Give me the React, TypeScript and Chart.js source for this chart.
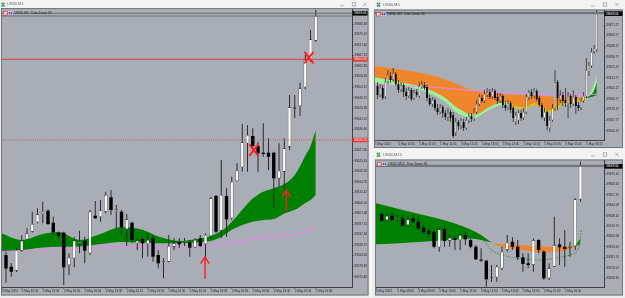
import React, { useEffect, useRef } from "react";
import { Chart, registerables } from "chart.js";
Chart.register(...registerables);

const FONT = "'Liberation Sans', 'DejaVu Sans', sans-serif";
const GREY = "#a9aeb6";

// ================= US30,M1 (left) =================
const m1Open = [39584.47, 39579.62, 39577.96, 39586.26, 39590.99, 39594.14, 39598.05, 39601.49, 39602.86, 39597.88,
  39593.73, 39593.73, 39580.32, 39583.11, 39589.33, 39590.41, 39585.18, 39600.78, 39600.24, 39602.44,
  39608.42, 39602.73, 39602.44, 39595.14, 39597.88, 39589.33, 39591.12, 39589.04, 39591.41, 39584.47,
  39581.45, 39581.69, 39587.92, 39589.99, 39589.75, 39589.75, 39587.67, 39591.41, 39589.04, 39592.36,
  39608.96, 39594.56, 39608.96, 39599.71, 39615.18, 39620.87, 39630.83, 39633.86, 39629.71, 39626.93,
  39626.93, 39626.93, 39616.30, 39619.04, 39629.42, 39645.19, 39646.31, 39654.07, 39665.40, 39673.41];
const m1High = [39585.84, 39581.15, 39587.38, 39592.77, 39595.56, 39602.44, 39603.86, 39606.59, 39603.44, 39600.37,
  39594.14, 39594.14, 39585.18, 39592.07, 39594.56, 39592.07, 39603.15, 39606.88, 39607.30, 39610.74,
  39611.45, 39605.22, 39603.15, 39601.49, 39598.29, 39591.41, 39592.07, 39593.73, 39592.77, 39586.55,
  39583.11, 39592.77, 39591.53, 39591.53, 39591.53, 39590.70, 39591.53, 39592.77, 39593.48, 39608.54,
  39609.37, 39623.90, 39612.16, 39616.97, 39622.53, 39638.84, 39638.43, 39637.06, 39631.49, 39639.13,
  39632.91, 39627.34, 39630.83, 39632.91, 39650.87, 39650.87, 39655.98, 39667.47, 39677.85, 39686.15];
const m1Low = [39572.98, 39575.47, 39577.42, 39585.84, 39590.70, 39593.73, 39597.63, 39597.63, 39596.93, 39592.77,
  39591.41, 39572.02, 39576.17, 39579.37, 39585.18, 39581.03, 39584.47, 39599.50, 39598.29, 39601.78,
  39601.07, 39595.56, 39592.77, 39588.21, 39589.33, 39586.55, 39583.11, 39583.77, 39581.69, 39578.96,
  39574.81, 39581.45, 39586.55, 39587.38, 39588.21, 39583.77, 39587.38, 39587.79, 39582.40, 39591.53,
  39593.60, 39591.41, 39592.07, 39599.00, 39614.89, 39619.04, 39619.04, 39627.34, 39619.04, 39625.27,
  39619.75, 39603.86, 39612.82, 39611.45, 39628.05, 39641.33, 39642.16, 39653.24, 39664.69, 39672.99];
const m1Close = [39578.87, 39577.54, 39586.55, 39590.41, 39593.48, 39597.34, 39601.37, 39602.44, 39597.34, 39593.90,
  39592.36, 39579.37, 39583.35, 39590.41, 39589.99, 39586.26, 39602.44, 39599.71, 39602.94, 39609.37,
  39603.15, 39603.36, 39595.97, 39599.29, 39590.70, 39590.41, 39589.33, 39590.70, 39583.77, 39581.03,
  39581.98, 39588.21, 39589.33, 39588.92, 39590.28, 39587.50, 39590.70, 39588.21, 39592.77, 39608.01,
  39594.14, 39609.37, 39599.29, 39614.89, 39619.54, 39631.25, 39634.27, 39629.71, 39626.68, 39626.39,
  39625.27, 39616.30, 39619.46, 39628.76, 39645.77, 39645.77, 39653.66, 39665.40, 39673.99, 39683.66];
const m1TickIdx = [-0.76, 3, 7, 11, 15, 19, 23, 27, 31, 35, 39, 43, 47, 51, 55, 59];
const m1TickLabels = ["5 May 2024", "5 May 15:52", "5 May 15:56", "5 May 16:00", "5 May 16:04", "5 May 16:08",
  "5 May 16:12", "5 May 16:16", "5 May 16:20", "5 May 16:24", "5 May 16:28", "5 May 16:32", "5 May 16:36",
  "5 May 16:40", "5 May 16:44", "5 May 16:48"];
const m1PriceTicks = [39680.34, 39675.97, 39671.60, 39667.23, 39662.86, 39658.49, 39654.12, 39649.75, 39645.38,
  39641.01, 39636.64, 39632.27, 39627.90, 39623.53, 39619.16, 39614.79, 39610.42, 39606.05, 39601.68, 39597.31,
  39592.94, 39588.57, 39584.20, 39579.83, 39575.46];
const m1BandIdx = [-1, 3, 7, 10, 14, 18, 22, 26, 29, 33, 35, 39, 41, 43, 45, 47, 49, 51, 53, 55, 57, 58, 59];
const m1BandUpper = [39593.6, 39590.7, 39593.2, 39594.0, 39590.7, 39593.2, 39596.1, 39594.9, 39592.1, 39590.3, 39590.7,
  39592.4, 39594.4, 39598.2, 39603.2, 39607.9, 39610.7, 39612.2, 39613.9, 39617.7, 39625.6, 39629.7, 39636.4];
const m1BandLower = [39585.8, 39586.5, 39587.6, 39587.9, 39588.0, 39589.0, 39589.9, 39589.7, 39589.3, 39589.5, 39589.6,
  39590.3, 39591.9, 39594.9, 39596.9, 39598.3, 39599.0, 39599.4, 39601.7, 39603.2, 39606.1, 39607.3, 39609.4];
const m1PinkIdx = [-1, 10, 18, 26, 33, 38, 41, 45, 48, 52, 55, 57, 59];
const m1Pink = [39585.9, 39586.8, 39587.4, 39587.8, 39587.9, 39588.2, 39589.2, 39590.3, 39591.2, 39592.2, 39593.0, 39594.2, 39596.0];
const m1RedLine = 39665.69;
const m1RedDotted = 39632.20;
const m1ArrowIdx = [37.9, 53.4];
const m1ArrowTip = [39583.6, 39611.3];
const m1ArrowTail = [39574.8, 39603.0];
const m1CrossIdx = [57.7, 47.2];
const m1CrossPrice = [39666.4, 39628.0];

const bidPrice = 39683.66;
const askPrice = 39684.80;

// ================= US30,M5 (top right) =================
const m5Open = [39604.9, 39595.1, 39602.8, 39593.0, 39609.3, 39615.8, 39611.5, 39618.0, 39607.1, 39600.6,
  39606.0, 39598.4, 39594.0, 39600.6, 39590.8, 39598.4, 39594.0, 39603.8, 39606.0, 39603.8,
  39591.9, 39585.3, 39589.7, 39581.0, 39576.6, 39582.1, 39575.6, 39570.1, 39576.6, 39573.4,
  39553.8, 39565.8, 39561.4, 39565.8, 39559.2, 39566.9, 39572.3, 39569.0, 39576.6, 39585.3,
  39591.9, 39588.6, 39595.1, 39598.4, 39593.0, 39599.5, 39593.0, 39588.6, 39594.0, 39584.3,
  39581.0, 39586.4, 39581.0, 39565.8, 39567.9, 39575.6, 39570.1, 39576.6, 39591.9, 39598.4,
  39594.0, 39599.5, 39591.9, 39584.3, 39570.1, 39576.6, 39559.2, 39567.9, 39579.9, 39609.3,
  39589.7, 39595.1, 39589.7, 39585.3, 39594.0, 39585.3, 39593.0, 39584.3, 39581.0, 39588.6,
  39594.0, 39620.2, 39626.7, 39641.9, 39644.1];
const m5High = [39609.3, 39607.1, 39606.0, 39613.6, 39622.3, 39620.2, 39624.5, 39620.2, 39611.5, 39609.3,
  39608.2, 39602.8, 39603.8, 39602.8, 39600.6, 39601.7, 39609.3, 39610.4, 39609.3, 39606.0,
  39595.1, 39593.0, 39591.9, 39585.3, 39585.3, 39584.3, 39578.8, 39581.0, 39578.8, 39576.6,
  39570.1, 39567.9, 39570.1, 39569.0, 39571.2, 39575.6, 39575.6, 39581.0, 39589.7, 39596.2,
  39595.1, 39600.6, 39602.8, 39601.7, 39602.8, 39601.7, 39597.3, 39597.3, 39596.2, 39588.6,
  39589.7, 39588.6, 39583.2, 39576.6, 39578.8, 39578.8, 39581.0, 39596.2, 39600.6, 39601.7,
  39602.8, 39601.7, 39594.0, 39586.4, 39581.0, 39578.8, 39572.3, 39585.3, 39622.3, 39611.5,
  39600.6, 39598.4, 39602.8, 39598.4, 39596.2, 39600.6, 39595.1, 39587.5, 39591.9, 39598.4,
  39635.4, 39631.0, 39646.3, 39649.5, 39687.6];
const m5Low = [39590.8, 39593.0, 39589.7, 39590.8, 39607.1, 39608.2, 39609.3, 39604.9, 39597.3, 39598.4,
  39593.0, 39589.7, 39591.9, 39588.6, 39589.7, 39593.0, 39591.9, 39601.7, 39600.6, 39588.6,
  39583.2, 39582.1, 39577.7, 39573.4, 39574.5, 39570.1, 39567.9, 39566.9, 39565.8, 39548.4,
  39550.5, 39557.1, 39558.2, 39556.0, 39557.1, 39564.7, 39565.8, 39566.9, 39574.5, 39583.2,
  39586.4, 39586.4, 39593.0, 39590.8, 39590.8, 39589.7, 39585.3, 39586.4, 39581.0, 39577.7,
  39578.8, 39575.6, 39565.8, 39562.5, 39563.6, 39566.9, 39567.9, 39574.5, 39589.7, 39590.8,
  39591.9, 39588.6, 39582.1, 39569.0, 39566.9, 39557.1, 39554.9, 39565.8, 39577.7, 39578.8,
  39586.4, 39583.2, 39582.1, 39570.1, 39581.0, 39583.2, 39574.5, 39577.7, 39578.8, 39586.4,
  39591.9, 39615.8, 39624.5, 39639.7, 39641.9];
const m5Close = [39595.1, 39602.8, 39591.9, 39609.3, 39616.9, 39611.5, 39619.1, 39607.1, 39600.6, 39606.0,
  39598.4, 39594.0, 39600.6, 39590.8, 39598.4, 39595.1, 39604.9, 39607.1, 39602.8, 39591.9,
  39585.3, 39589.7, 39581.0, 39576.6, 39582.1, 39575.6, 39571.2, 39575.6, 39570.1, 39550.5,
  39565.8, 39561.4, 39566.9, 39559.2, 39567.9, 39572.3, 39569.0, 39576.6, 39585.3, 39593.0,
  39588.6, 39596.2, 39598.4, 39593.0, 39599.5, 39591.9, 39588.6, 39594.0, 39584.3, 39581.0,
  39586.4, 39578.8, 39570.1, 39573.4, 39575.6, 39570.1, 39576.6, 39593.0, 39598.4, 39594.0,
  39599.5, 39590.8, 39584.3, 39571.2, 39576.6, 39561.4, 39567.9, 39581.0, 39609.3, 39591.9,
  39595.1, 39588.6, 39586.4, 39594.0, 39585.3, 39593.0, 39583.2, 39581.0, 39588.6, 39594.0,
  39622.3, 39627.8, 39641.9, 39646.3, 39683.3];
const m5TickIdx = [-0.96, 8, 16, 24, 32, 40, 48, 56, 64, 72, 80];
const m5TickLabels = ["5 May 2024", "5 May 10:25", "5 May 11:05", "5 May 11:45", "5 May 12:25", "5 May 13:05",
  "5 May 13:45", "5 May 14:25", "5 May 15:05", "5 May 15:45", "5 May 16:25"];
const m5PriceTicks = [39671.27, 39659.77, 39648.27, 39636.77, 39625.27, 39613.77, 39602.27, 39590.77, 39579.27, 39567.77, 39556.27];
const m5BandIdx = [-1, 5, 10, 16, 23, 27, 30, 34, 37, 39, 42, 46, 50, 53, 57, 60, 62, 66, 69, 71, 76, 80];
const m5OrangeTop = [39626.7, 39624.5, 39622.3, 39619.6, 39615.0, 39610.9, 39607.7, 39602.8, 39600.3, 39599.2, 39597.6,
  39596.4, 39595.7, 39595.4, 39594.9, 39594.5, 39594.3, 39593.5, 39593.1, 39592.9, 39592.6, 39593.0];
const m5OrangeBottom = [39614.4, 39611.5, 39608.5, 39604.9, 39597.0, 39589.7, 39582.4, 39575.9, 39573.4, 39575.2, 39580.7,
  39586.1, 39587.9, 39583.2, 39582.4, 39586.8, 39584.3, 39578.8, 39582.4, 39587.9, 39589.7, 39591.5];
const m5SlowEdge = [39608.2, 39606.6, 39604.9, 39601.1, 39593.0, 39585.3, 39576.6, 39571.2, 39569.6, 39572.3, 39577.7,
  39583.2, 39585.3, 39580.5, 39579.9, 39584.3, 39581.5, 39576.1, 39579.9, 39585.3, 39587.2, 39589.7];
const m5GreenUntil = 50; // last index of the light-green stretch, yellow afterwards
const m5SpikeIdx = [79, 81, 82, 83, 84];
const m5SpikeLight = [39593.0, 39596.2, 39600.6, 39607.1, 39616.9];
const m5SpikeDark = [39592.4, 39594.0, 39596.2, 39600.6, 39609.3];
const m5SpikeBase = [39591.9, 39592.4, 39593.0, 39594.0, 39595.1];
const m5PinkIdx = [-1, 5, 10, 16, 23, 29, 35, 42, 48, 55, 61, 67, 74, 84];
const m5Pink = [39605.5, 39605.7, 39604.9, 39604.6, 39603.3, 39601.7, 39600.3, 39599.0, 39597.9, 39597.0, 39596.2, 39595.5, 39594.8, 39596.2];

// ================= US30,M15 (bottom right) =================
const m15Open = [39630.3, 39623.6, 39628.4, 39624.7, 39625.5, 39618.0, 39625.5, 39621.7, 39615.0, 39611.6,
  39610.5, 39593.1, 39613.6, 39600.5, 39603.1, 39601.2, 39606.8, 39601.2, 39593.7, 39578.9,
  39578.1, 39559.1, 39559.5, 39569.6, 39590.1, 39599.3, 39593.7, 39581.9, 39575.2, 39573.3,
  39601.2, 39588.2, 39558.4, 39571.4, 39596.4, 39593.7, 39592.6, 39594.5, 39646.8];
const m15High = [39632.9, 39631.8, 39632.9, 39629.2, 39629.2, 39627.3, 39629.2, 39628.1, 39618.0, 39614.3,
  39612.4, 39615.4, 39616.1, 39606.8, 39605.7, 39608.7, 39610.5, 39603.1, 39595.6, 39592.0,
  39578.9, 39573.3, 39573.3, 39593.7, 39606.8, 39604.3, 39601.2, 39586.4, 39586.4, 39603.1,
  39602.0, 39590.1, 39575.2, 39627.3, 39603.1, 39612.4, 39599.3, 39647.9, 39688.9];
const m15Low = [39621.7, 39621.7, 39622.8, 39621.7, 39616.1, 39616.1, 39619.9, 39612.4, 39608.7, 39604.3,
  39592.0, 39588.2, 39593.7, 39593.7, 39590.1, 39590.1, 39595.6, 39592.0, 39578.9, 39577.0,
  39549.0, 39554.6, 39554.6, 39567.7, 39588.2, 39590.1, 39578.9, 39565.8, 39569.6, 39565.8,
  39586.4, 39556.5, 39556.5, 39571.4, 39573.3, 39571.4, 39582.6, 39590.1, 39644.1];
const m15Close = [39622.8, 39628.1, 39623.6, 39626.2, 39617.2, 39624.4, 39621.7, 39614.3, 39609.9, 39608.0,
  39593.7, 39613.2, 39600.1, 39603.8, 39601.2, 39606.8, 39602.0, 39593.7, 39579.6, 39578.1,
  39557.3, 39559.8, 39571.4, 39588.2, 39598.2, 39593.7, 39581.9, 39574.4, 39573.3, 39601.2,
  39590.1, 39558.4, 39569.6, 39595.6, 39593.1, 39591.2, 39594.5, 39646.8, 39685.2];
const m15TickIdx = [-1.09, 3, 7, 11, 15, 19, 23, 27, 31, 35];
const m15TickLabels = ["5 May 2024", "5 May 08:00", "5 May 09:00", "5 May 10:00", "5 May 11:00", "5 May 12:00",
  "5 May 13:00", "5 May 14:00", "5 May 15:00", "5 May 16:00"];
const m15PriceTicks = [39675.10, 39663.43, 39651.76, 39640.09, 39628.42, 39616.75, 39605.08, 39593.41, 39581.74, 39570.07, 39558.40];
const m15GreenIdx = [-1.1, 4, 10, 14, 17, 19, 21];
const m15GreenTop = [39642.3, 39634.8, 39626.4, 39619.7, 39613.0, 39606.8, 39598.4];
const m15GreenBottom = [39596.4, 39597.9, 39600.1, 39601.8, 39602.9, 39601.2, 39598.4];
const m15OrangeIdx = [21, 23, 26, 29, 32, 35, 37];
const m15OrangeTop = [39597.9, 39596.4, 39595.6, 39594.5, 39594.0, 39593.7, 39594.7];
const m15OrangeBottom = [39597.3, 39593.4, 39590.6, 39588.4, 39587.3, 39589.5, 39593.4];
const m15TipIdx = [37, 38];
const m15TipTop = [39594.7, 39603.1];
const m15TipBottom = [39594.5, 39596.2];
const m15DashIdx = [17, 19, 21, 23, 26, 30, 33, 36, 37.6, 38.2];
const m15Dash = [39606.8, 39603.1, 39590.1, 39584.5, 39580.8, 39578.9, 39580.8, 39584.5, 39592.0, 39612.4];

// ================= helpers =================
function candleSets(open: number[], high: number[], low: number[], close: number[], bodyW: number, wickW: number, edgeW: number) {
  const wick: any[] = [], up: any[] = [], down: any[] = [];
  for (let i = 0; i < open.length; i++) {
    wick.push({ x: i, y: [low[i], high[i]] });
    if (close[i] >= open[i]) up.push({ x: i, y: [open[i], close[i]] });
    else down.push({ x: i, y: [close[i], open[i]] });
  }
  const base = { type: "bar", grouped: false, borderSkipped: false, inflateAmount: 0, minBarLength: 1 };
  return [
    { ...base, data: wick, barThickness: wickW, backgroundColor: "#2b2b2b", borderWidth: 0, order: 3 },
    { ...base, data: up, barThickness: bodyW, backgroundColor: "#ffffff", borderColor: "#3a3a3a", borderWidth: edgeW, order: 2 },
    { ...base, data: down, barThickness: bodyW, backgroundColor: "#000000", borderWidth: 0, order: 1 },
  ];
}

function line(xs: number[], ys: number[], extra: any) {
  return {
    type: "line",
    data: xs.map((x, i) => ({ x, y: ys[i] })),
    pointRadius: 0,
    borderWidth: 0,
    borderColor: "rgba(0,0,0,0)",
    tension: 0.4,
    cubicInterpolationMode: "monotone",
    fill: false,
    order: 8,
    ...extra,
  };
}

function band(xs: number[], top: number[], bottom: number[], color: string, order: number) {
  return [
    line(xs, top, { fill: "+1", backgroundColor: color, order }),
    line(xs, bottom, { order }),
  ];
}

type Spec = {
  w: number; h: number;
  pad: { left: number; top: number; right: number; bottom: number };
  yAxisW: number; xAxisH: number;
  xMin: number; xMax: number; yMin: number; yMax: number;
  xTicks: number[]; xLabels: string[]; yTicks: number[];
  datasets: any[];
  frame: [number, number, number, number];
  title: string; titleX: number; titleY: number; iconX: number; btnX: number[];
  info: string;
  boxValue: number;
  hlines: { value: number; color: string; dash: number[]; box: string }[];
  marks?: boolean;
};

function decor(s: Spec) {
  return {
    id: "decor",
    beforeDraw(chart: any) {
      const ctx = chart.ctx as CanvasRenderingContext2D;
      ctx.save();
      ctx.fillStyle = "#ececec";
      ctx.fillRect(0, 0, chart.width, chart.height);
      ctx.fillStyle = "#f3f3f3";
      ctx.fillRect(0, 0, chart.width, s.frame[1]);
      const [x0, y0, x1, y1] = s.frame;
      ctx.fillStyle = GREY;
      ctx.fillRect(x0, y0, x1 - x0, y1 - y0);
      ctx.strokeStyle = "#74777c";
      ctx.lineWidth = 1;
      ctx.strokeRect(x0 + 0.5, y0 + 0.5, x1 - x0 - 1, y1 - y0 - 1);
      // title icon
      ctx.fillStyle = "#2f9e44";
      const ix = s.iconX, iy = s.titleY;
      [[0, -1], [2, -1], [1, 0.6], [0, 1.6], [2, 1.6]].forEach(([dx, dy]) => {
        ctx.beginPath();
        ctx.arc(ix + dx, iy + dy, 0.9, 0, Math.PI * 2);
        ctx.fill();
      });
      ctx.fillStyle = "#5e5e5e";
      ctx.font = `4px ${FONT}`;
      ctx.textBaseline = "middle";
      ctx.textAlign = "left";
      ctx.fillText(s.title, s.titleX, s.titleY);
      ctx.strokeStyle = "#a4a4a4";
      ctx.lineWidth = 0.8;
      const [b1, b2, b3] = s.btnX;
      const ty = s.titleY;
      ctx.beginPath();
      ctx.moveTo(b1 - 2, ty + 1.5);
      ctx.lineTo(b1 + 2, ty + 1.5);
      ctx.stroke();
      ctx.strokeRect(b2 - 1.7, ty - 1.7, 3.4, 3.4);
      ctx.beginPath();
      ctx.moveTo(b3 - 1.7, ty - 1.7);
      ctx.lineTo(b3 + 1.7, ty + 1.7);
      ctx.moveTo(b3 + 1.7, ty - 1.7);
      ctx.lineTo(b3 - 1.7, ty + 1.7);
      ctx.stroke();
      ctx.restore();
    },
    afterDatasetsDraw(chart: any) {
      const ctx = chart.ctx as CanvasRenderingContext2D;
      const a = chart.chartArea;
      const x = chart.scales.x, y = chart.scales.y;
      ctx.save();
      ctx.beginPath();
      ctx.rect(a.left, a.top, a.right - a.left, a.bottom - a.top);
      ctx.clip();
      // ask / bid lines
      ctx.strokeStyle = "#6a6d72";
      ctx.lineWidth = 1;
      [askPrice, bidPrice].forEach((p) => {
        const py = y.getPixelForValue(p);
        ctx.beginPath();
        ctx.moveTo(a.left, py);
        ctx.lineTo(a.right, py);
        ctx.stroke();
      });
      s.hlines.forEach((hl) => {
        const py = y.getPixelForValue(hl.value);
        ctx.strokeStyle = hl.color;
        ctx.setLineDash(hl.dash);
        ctx.beginPath();
        ctx.moveTo(a.left, py);
        ctx.lineTo(a.right, py);
        ctx.stroke();
      });
      ctx.setLineDash([]);
      if (s.marks) {
        ctx.strokeStyle = "#ff1d1d";
        ctx.lineCap = "round";
        m1ArrowIdx.forEach((ix, k) => {
          const px = x.getPixelForValue(ix);
          const tip = y.getPixelForValue(m1ArrowTip[k]);
          const tail = y.getPixelForValue(m1ArrowTail[k]);
          ctx.lineWidth = 1.4;
          ctx.beginPath();
          ctx.moveTo(px, tail);
          ctx.lineTo(px, tip);
          ctx.moveTo(px - 4, tip + 6);
          ctx.lineTo(px, tip);
          ctx.lineTo(px + 4, tip + 6);
          ctx.stroke();
        });
        m1CrossIdx.forEach((ix, k) => {
          const px = x.getPixelForValue(ix);
          const py = y.getPixelForValue(m1CrossPrice[k]);
          ctx.lineWidth = 2;
          ctx.beginPath();
          ctx.moveTo(px - 4, py - 5);
          ctx.lineTo(px + 4, py + 5);
          ctx.moveTo(px + 4, py - 5);
          ctx.lineTo(px - 4, py + 5);
          ctx.stroke();
        });
      }
      ctx.restore();
    },
    afterDraw(chart: any) {
      const ctx = chart.ctx as CanvasRenderingContext2D;
      const a = chart.chartArea;
      const y = chart.scales.y;
      ctx.save();
      ctx.font = `3px ${FONT}`;
      ctx.textBaseline = "middle";
      ctx.textAlign = "left";
      const boxW = s.yAxisW - 1;
      const drawBox = (value: number, fill: string, text: string, color: string) => {
        const py = y.getPixelForValue(value);
        ctx.fillStyle = fill;
        ctx.fillRect(a.right + 0.5, py - 2.3, boxW, 4.6);
        ctx.fillStyle = color;
        ctx.fillText(text, a.right + 2, py + 0.2);
      };
      s.hlines.forEach((hl) => drawBox(hl.value, hl.box, hl.value.toFixed(2), "#ffe9e9"));
      drawBox(s.boxValue, "#000000", bidPrice.toFixed(2), "#ffffff");
      // info line
      const iy = a.top + 4.2;
      ctx.fillStyle = "#f2d4d4";
      ctx.fillRect(a.left + 1.5, iy - 1.8, 3.6, 3.6);
      ctx.strokeStyle = "#c04444";
      ctx.lineWidth = 0.6;
      ctx.strokeRect(a.left + 1.5, iy - 1.8, 3.6, 3.6);
      ctx.fillStyle = "#d7dcf2";
      ctx.fillRect(a.left + 6, iy - 1.8, 4.6, 3.6);
      ctx.fillStyle = "#d23a3a";
      ctx.fillRect(a.left + 6.6, iy - 1.2, 1.6, 2.4);
      ctx.fillStyle = "#3a5fd2";
      ctx.fillRect(a.left + 8.6, iy - 1.2, 1.6, 2.4);
      ctx.fillStyle = "#1d1d1d";
      ctx.font = `3.2px ${FONT}`;
      ctx.fillText(s.info, a.left + 12.5, iy);
      ctx.restore();
    },
  };
}

function buildConfig(s: Spec): any {
  const tickFont = { family: FONT, size: 3 };
  const grid = { display: true, drawOnChartArea: false, drawTicks: true, tickLength: 1.5, color: "#3c3c3c", offset: false };
  const border = { display: true, color: "#3f4146", width: 1 };
  return {
    type: "bar",
    data: { datasets: s.datasets },
    options: {
      animation: false,
      responsive: false,
      devicePixelRatio: 1,
      events: [],
      layout: { padding: s.pad },
      plugins: { legend: { display: false }, tooltip: { enabled: false } },
      scales: {
        x: {
          type: "linear", position: "bottom", min: s.xMin, max: s.xMax, offset: false,
          afterBuildTicks: (sc: any) => { sc.ticks = s.xTicks.map((v) => ({ value: v })); },
          afterFit: (sc: any) => { sc.height = s.xAxisH; },
          ticks: { autoSkip: false, maxRotation: 0, minRotation: 0, align: "start", padding: 0.5, color: "#1e1e1e", font: tickFont,
            callback: (_v: any, i: number) => s.xLabels[i] },
          grid, border,
        },
        y: {
          type: "linear", position: "right", min: s.yMin, max: s.yMax, beginAtZero: false, grace: 0,
          afterBuildTicks: (sc: any) => { sc.ticks = s.yTicks.map((v) => ({ value: v })); },
          afterFit: (sc: any) => { sc.width = s.yAxisW; },
          ticks: { autoSkip: false, padding: 1, color: "#1e1e1e", font: tickFont, callback: (v: any) => Number(v).toFixed(2) },
          grid, border,
        },
      },
    },
    plugins: [decor(s)],
  };
}

// ================= specs =================
const m1Spec: Spec = {
  w: 370, h: 298,
  pad: { left: 2, top: 9, right: 2, bottom: 3 },
  yAxisW: 16, xAxisH: 8,
  xMin: -0.762, xMax: 65.9, yMin: 39571.19, yMax: 39686.57,
  xTicks: m1TickIdx, xLabels: m1TickLabels, yTicks: m1PriceTicks,
  datasets: [
    ...band(m1BandIdx, m1BandUpper, m1BandLower, "#008000", 9),
    line(m1PinkIdx, m1Pink, { borderColor: "#ee82ee", borderWidth: 1, order: 5 }),
    ...candleSets(m1Open, m1High, m1Low, m1Close, 3.4, 1, 0.6),
  ],
  frame: [1, 8, 368.5, 295.5],
  title: "US30,M1", titleX: 7, titleY: 4.3, iconX: 2, btnX: [342, 354, 365],
  info: "US30, M1:  Dow Jones 30",
  boxValue: askPrice,
  hlines: [
    { value: m1RedLine, color: "rgba(214,58,58,0.9)", dash: [], box: "#e23b3b" },
    { value: m1RedDotted, color: "rgba(214,70,70,0.85)", dash: [1, 1.2], box: "#e23b3b" },
  ],
  marks: true,
};

const m5Spec: Spec = {
  w: 253, h: 149,
  pad: { left: 3, top: 10, right: 2, bottom: 1 },
  yAxisW: 19, xAxisH: 8,
  xMin: -0.958, xMax: 86.78, yMin: 39546.18, yMax: 39687.62,
  xTicks: m5TickIdx, xLabels: m5TickLabels, yTicks: m5PriceTicks,
  datasets: [
    ...band(m5BandIdx, m5OrangeTop, m5OrangeBottom, "#f0862c", 10),
    ...band(m5BandIdx.filter((j) => j <= m5GreenUntil), m5OrangeBottom.filter((_, k) => m5BandIdx[k] <= m5GreenUntil),
      m5SlowEdge.filter((_, k) => m5BandIdx[k] <= m5GreenUntil), "#98f598", 10),
    ...band(m5BandIdx.filter((j) => j >= m5GreenUntil), m5OrangeBottom.filter((_, k) => m5BandIdx[k] >= m5GreenUntil),
      m5SlowEdge.filter((_, k) => m5BandIdx[k] >= m5GreenUntil), "#d8c200", 10),
    ...band(m5SpikeIdx, m5SpikeLight, m5SpikeDark, "#98f598", 10),
    ...band(m5SpikeIdx, m5SpikeDark, m5SpikeBase, "#0a7d0a", 10),
    line(m5PinkIdx, m5Pink, { borderColor: "#ee82ee", borderWidth: 1, order: 5 }),
    ...candleSets(m5Open, m5High, m5Low, m5Close, 1.8, 0.8, 0.4),
  ],
  frame: [2, 9.5, 251, 148],
  title: "US30,M5", titleX: 11, titleY: 4.5, iconX: 5.5, btnX: [221, 233, 245],
  info: "US30, M5:  Dow Jones 30",
  boxValue: bidPrice,
  hlines: [],
};

const m15Spec: Spec = {
  w: 253, h: 148,
  pad: { left: 4, top: 10, right: 2, bottom: 3 },
  yAxisW: 19, xAxisH: 8,
  xMin: -1.09, xMax: 42.5, yMin: 39548.65, yMax: 39690.76,
  xTicks: m15TickIdx, xLabels: m15TickLabels, yTicks: m15PriceTicks,
  datasets: [
    ...band(m15GreenIdx, m15GreenTop, m15GreenBottom, "#008000", 10),
    ...band(m15OrangeIdx, m15OrangeTop, m15OrangeBottom, "#f0862c", 10),
    ...band(m15TipIdx, m15TipTop, m15TipBottom, "#0a8a0a", 10),
    line(m15DashIdx, m15Dash, { borderColor: "#2f6a35", borderWidth: 0.8, borderDash: [1.5, 1.5], order: 7 }),
    ...candleSets(m15Open, m15High, m15Low, m15Close, 3.4, 1, 0.6),
  ],
  frame: [3, 9.5, 251, 145.5],
  title: "US30,M15", titleX: 11, titleY: 4.5, iconX: 5.5, btnX: [221, 233, 245],
  info: "US30, M15:  Dow Jones 30",
  boxValue: bidPrice,
  hlines: [],
};

export default function App() {
  const r1 = useRef<HTMLCanvasElement>(null);
  const r2 = useRef<HTMLCanvasElement>(null);
  const r3 = useRef<HTMLCanvasElement>(null);
  useEffect(() => {
    const charts = [
      new Chart(r1.current as HTMLCanvasElement, buildConfig(m1Spec)),
      new Chart(r2.current as HTMLCanvasElement, buildConfig(m5Spec)),
      new Chart(r3.current as HTMLCanvasElement, buildConfig(m15Spec)),
    ];
    return () => charts.forEach((c) => c.destroy());
  }, []);
  return (
    <div style={{ position: "fixed", left: 0, top: 0, width: 625, height: 298, background: "#f6f6f6", overflow: "hidden" }}>
      <canvas ref={r1} width={370} height={298} style={{ position: "absolute", left: 0, top: 0, width: 370, height: 298 }} />
      <canvas ref={r2} width={253} height={149} style={{ position: "absolute", left: 372, top: 0, width: 253, height: 149 }} />
      <canvas ref={r3} width={253} height={148} style={{ position: "absolute", left: 372, top: 150, width: 253, height: 148 }} />
    </div>
  );
}
